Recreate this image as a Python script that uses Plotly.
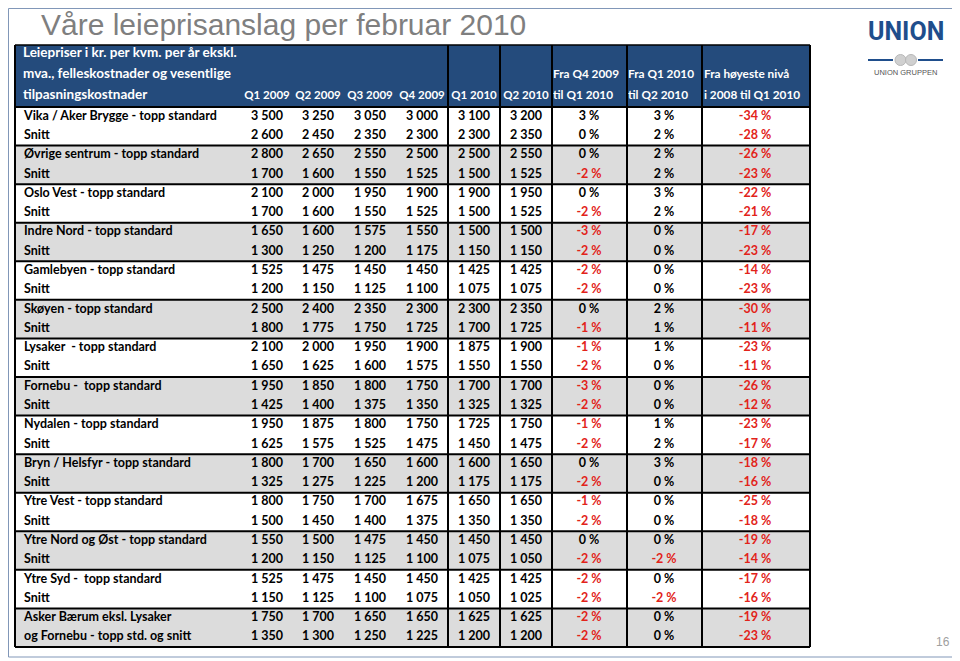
import plotly.graph_objects as go

# ---------------- data ----------------
title = "Våre leieprisanslag per februar 2010"
header_label = ["Leiepriser i kr. per kvm. per år ekskl.",
                "mva., felleskostnader og vesentlige",
                "tilpasningskostnader"]
quarters = ["Q1 2009", "Q2 2009", "Q3 2009", "Q4 2009", "Q1 2010", "Q2 2010"]
change_headers = [("Fra Q4 2009", "til Q1 2010"),
                  ("Fra Q1 2010", "til Q2 2010"),
                  ("Fra høyeste nivå", "i 2008 til Q1 2010")]

row_labels = [
    "Vika / Aker Brygge - topp standard", "Snitt",
    "Øvrige sentrum - topp standard", "Snitt",
    "Oslo Vest - topp standard", "Snitt",
    "Indre Nord - topp standard", "Snitt",
    "Gamlebyen - topp standard", "Snitt",
    "Skøyen - topp standard", "Snitt",
    "Lysaker  - topp standard", "Snitt",
    "Fornebu -  topp standard", "Snitt",
    "Nydalen - topp standard", "Snitt",
    "Bryn / Helsfyr - topp standard", "Snitt",
    "Ytre Vest - topp standard", "Snitt",
    "Ytre Nord og Øst - topp standard", "Snitt",
    "Ytre Syd -  topp standard", "Snitt",
    "Asker Bærum eksl. Lysaker", "og Fornebu - topp std. og snitt",
]

q1_2009 = [3500, 2600, 2800, 1700, 2100, 1700, 1650, 1300, 1525, 1200, 2500, 1800, 2100, 1650,
           1950, 1425, 1950, 1625, 1800, 1325, 1800, 1500, 1550, 1200, 1525, 1150, 1750, 1350]
q2_2009 = [3250, 2450, 2650, 1600, 2000, 1600, 1600, 1250, 1475, 1150, 2400, 1775, 2000, 1625,
           1850, 1400, 1875, 1575, 1700, 1275, 1750, 1450, 1500, 1150, 1475, 1125, 1700, 1300]
q3_2009 = [3050, 2350, 2550, 1550, 1950, 1550, 1575, 1200, 1450, 1125, 2350, 1750, 1950, 1600,
           1800, 1375, 1800, 1525, 1650, 1225, 1700, 1400, 1475, 1125, 1450, 1100, 1650, 1250]
q4_2009 = [3000, 2300, 2500, 1525, 1900, 1525, 1550, 1175, 1450, 1100, 2300, 1725, 1900, 1575,
           1750, 1350, 1750, 1475, 1600, 1200, 1675, 1375, 1450, 1100, 1450, 1075, 1650, 1225]
q1_2010 = [3100, 2300, 2500, 1500, 1900, 1500, 1500, 1150, 1425, 1075, 2300, 1700, 1875, 1550,
           1700, 1325, 1725, 1450, 1600, 1175, 1650, 1350, 1450, 1075, 1425, 1050, 1625, 1200]
q2_2010 = [3200, 2350, 2550, 1525, 1950, 1525, 1500, 1150, 1425, 1075, 2350, 1725, 1900, 1550,
           1700, 1325, 1750, 1475, 1650, 1175, 1650, 1350, 1450, 1050, 1425, 1025, 1625, 1200]
chg_q4_q1 = [3, 0, 0, -2, 0, -2, -3, -2, -2, -2, 0, -1, -1, -2,
             -3, -2, -1, -2, 0, -2, -1, -2, 0, -2, -2, -2, -2, -2]
chg_q1_q2 = [3, 2, 2, 2, 3, 2, 0, 0, 0, 0, 2, 1, 1, 0,
             0, 0, 1, 2, 3, 0, 0, 0, 0, -2, 0, -2, 0, 0]
chg_peak = [-34, -28, -26, -23, -22, -21, -17, -23, -14, -23, -30, -11, -23, -11,
            -26, -12, -23, -17, -18, -16, -25, -18, -19, -14, -17, -16, -19, -23]
page_number = "16"

# ---------------- layout constants ----------------
W, H = 960, 661
OFF = 8                          # page body margin of the html page
TL, TR = 15, 810                 # table left / right
HEAD_TOP, BODY_TOP, BODY_BOT = 45, 107, 647
n_rows = len(row_labels)
row_h = (BODY_BOT - BODY_TOP) / n_rows
vlines = [TL, 448, 500, 552, 627, 702, TR]
num_cols_x = [267, 318, 370, 422, 474, 526]
pct_cols_x = [589, 664, 755]
chg_left = [553, 628, 704]

HEAD_BLUE = "#244B7C"
GREY = "#DCDCDC"
RED = "#E2231A"
FONT = "Lato, 'Open Sans', sans-serif"

def fmt_num(v):
    return f"{v:,}".replace(",", " ")

def fmt_pct(v):
    return f"{v} %"

def row_center(i):
    return BODY_TOP + (i + 0.5) * row_h

fig = go.Figure()
shapes = []

# slide frame
shapes.append(dict(type="rect", x0=8.5, x1=956, y0=8.5, y1=657, xref="x", yref="y",
                   line=dict(color="#8197B8", width=1), fillcolor="rgba(0,0,0,0)", layer="below"))

# header background
shapes.append(dict(type="rect", x0=TL, x1=TR, y0=HEAD_TOP, y1=BODY_TOP, xref="x", yref="y",
                   line=dict(width=0), fillcolor=HEAD_BLUE, layer="below"))

# group backgrounds (alternating white / grey)
n_groups = n_rows // 2
for g in range(n_groups):
    if g % 2 == 1:
        shapes.append(dict(type="rect", x0=TL, x1=TR,
                           y0=BODY_TOP + 2 * g * row_h, y1=BODY_TOP + 2 * (g + 1) * row_h,
                           xref="x", yref="y", line=dict(width=0), fillcolor=GREY, layer="below"))

# group separators
for g in range(n_groups + 1):
    y = BODY_TOP + 2 * g * row_h
    shapes.append(dict(type="line", x0=TL, x1=TR, y0=y, y1=y, xref="x", yref="y",
                       line=dict(color="black", width=2)))
# header top line
shapes.append(dict(type="line", x0=TL, x1=TR, y0=HEAD_TOP, y1=HEAD_TOP, xref="x", yref="y",
                   line=dict(color="black", width=1.5)))
# vertical lines
for x in vlines:
    shapes.append(dict(type="line", x0=x, x1=x, y0=HEAD_TOP, y1=BODY_BOT, xref="x", yref="y",
                       line=dict(color="black", width=2)))

# logo decoration line + circles
LOGO_BLUE = "#1F4E8C"
shapes.append(dict(type="line", x0=868, x1=893, y0=60, y1=60, xref="x", yref="y",
                   line=dict(color=LOGO_BLUE, width=2)))
shapes.append(dict(type="line", x0=918, x1=943, y0=60, y1=60, xref="x", yref="y",
                   line=dict(color=LOGO_BLUE, width=2)))
for cx in (900.5, 911):
    shapes.append(dict(type="circle", x0=cx - 5.5, x1=cx + 5.5, y0=54.5, y1=65.5, xref="x", yref="y",
                       line=dict(color="#B8B8B8", width=1), fillcolor="#D0D0D0"))

# ---------------- text traces ----------------
ys = [row_center(i) for i in range(n_rows)]
body_font = dict(family=FONT, size=12.5, color="black", weight="bold")

# row labels
fig.add_trace(go.Scatter(x=[24] * n_rows, y=ys, mode="text", text=row_labels,
                         textposition="middle right", textfont=body_font,
                         hoverinfo="skip", showlegend=False))

# numeric columns
for xc, col in zip(num_cols_x, [q1_2009, q2_2009, q3_2009, q4_2009, q1_2010, q2_2010]):
    fig.add_trace(go.Scatter(x=[xc] * n_rows, y=ys, mode="text",
                             text=[fmt_num(v) for v in col], textposition="middle center",
                             textfont=body_font, hoverinfo="skip", showlegend=False))

# percentage columns
for xc, col in zip(pct_cols_x, [chg_q4_q1, chg_q1_q2, chg_peak]):
    fig.add_trace(go.Scatter(x=[xc] * n_rows, y=ys, mode="text",
                             text=[fmt_pct(v) for v in col], textposition="middle center",
                             textfont=dict(family=FONT, size=12.5, weight="bold",
                                           color=[RED if v < 0 else "black" for v in col]),
                             hoverinfo="skip", showlegend=False))

# header texts
hy = [54, 75, 96]
fig.add_trace(go.Scatter(x=[23] * 3, y=hy, mode="text", text=header_label,
                         textposition="middle right",
                         textfont=dict(family=FONT, size=13.5, color="white", weight="bold"),
                         hoverinfo="skip", showlegend=False))
fig.add_trace(go.Scatter(x=num_cols_x, y=[hy[2]] * len(quarters), mode="text", text=quarters,
                         textposition="middle center",
                         textfont=dict(family=FONT, size=11.5, color="white", weight="bold"),
                         hoverinfo="skip", showlegend=False))
fig.add_trace(go.Scatter(x=chg_left + chg_left, y=[hy[1]] * 3 + [hy[2]] * 3, mode="text",
                         text=[h[0] for h in change_headers] + [h[1] for h in change_headers],
                         textposition="middle right",
                         textfont=dict(family=FONT, size=11.8, color="white", weight="bold"),
                         hoverinfo="skip", showlegend=False))

# ---------------- annotations (title, logo, page) ----------------
annotations = [
    dict(x=39, y=24, xref="x", yref="y", text=title, showarrow=False, xanchor="left",
         yanchor="middle", font=dict(family="Liberation Sans, Arial, sans-serif", size=30, color="#7F7F7F")),
    dict(x=905.5, y=31, xref="x", yref="y", text="<b>UNION</b>", showarrow=False, xanchor="center",
         yanchor="middle", font=dict(family="Roboto, sans-serif", size=25, color=LOGO_BLUE)),
    dict(x=905.5, y=72, xref="x", yref="y", text="UNION GRUPPEN", showarrow=False, xanchor="center",
         yanchor="middle", font=dict(family="Liberation Sans, Arial, sans-serif", size=7.5, color="#555555")),
    dict(x=943, y=642, xref="x", yref="y", text=page_number, showarrow=False, xanchor="center",
         yanchor="middle", font=dict(family="Liberation Sans, Arial, sans-serif", size=12, color="#A0A0A0")),
]

fig.update_layout(
    width=W - OFF, height=H - OFF, margin=dict(l=0, r=0, t=0, b=0),
    paper_bgcolor="white", plot_bgcolor="white",
    xaxis=dict(range=[OFF, W], visible=False, fixedrange=True),
    yaxis=dict(range=[H, OFF], visible=False, fixedrange=True),
    shapes=shapes, annotations=annotations, showlegend=False,
)

fig.write_html("out.html")
